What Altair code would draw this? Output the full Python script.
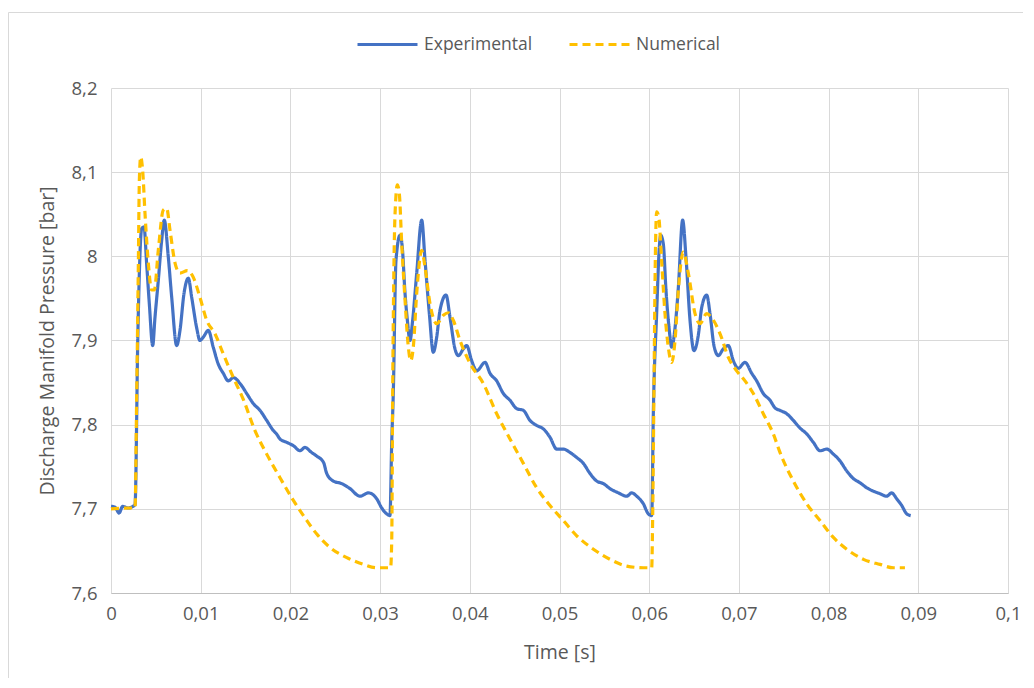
import altair as alt
import pandas as pd

# Experimental series (time [s], pressure [bar])
exp_t = [0.0, 0.00045, 0.0009, 0.0013, 0.0019, 0.00245, 0.00268, 0.0030, 0.00342, 0.00368,
         0.00398, 0.00427, 0.00465, 0.0049, 0.00527, 0.00565, 0.00594, 0.00639, 0.00677, 0.00732,
         0.00769, 0.00814, 0.00862, 0.0090, 0.00955, 0.00992, 0.01029, 0.01085, 0.0114, 0.01196,
         0.01252, 0.01308, 0.01364, 0.01438, 0.01513, 0.01587, 0.01661, 0.01736, 0.0181, 0.01845,
         0.01884, 0.01959, 0.02033, 0.02107, 0.02162, 0.02236, 0.02289, 0.0237, 0.02405, 0.02479,
         0.02572, 0.02665, 0.02776, 0.02869, 0.02962, 0.03018, 0.03074, 0.0311,
         0.03129, 0.03147, 0.03177, 0.03222, 0.03247, 0.03278, 0.03304, 0.03333, 0.03363, 0.03408,
         0.03464, 0.03501, 0.03549, 0.03593, 0.03631, 0.03668, 0.03735, 0.0378, 0.03835, 0.03872,
         0.03928, 0.03965, 0.04021, 0.04077, 0.0417, 0.04225, 0.043, 0.04374, 0.04448, 0.04523,
         0.04597, 0.04671, 0.04746, 0.0482, 0.04894, 0.04969, 0.05043, 0.05117, 0.05192, 0.05266,
         0.0534, 0.05415, 0.05489, 0.05563, 0.05656, 0.05749, 0.05805, 0.05861, 0.05935, 0.0599,
         0.06028,
         0.06046, 0.06083, 0.06113, 0.06128, 0.06157, 0.06187, 0.06224, 0.06251, 0.06288, 0.06325,
         0.06373, 0.0641, 0.06455, 0.06499, 0.06547, 0.06585, 0.06641, 0.06678, 0.06722, 0.0677,
         0.06826, 0.06882, 0.06938, 0.06993, 0.07068, 0.07143, 0.07198, 0.07272, 0.07347, 0.07402,
         0.07458, 0.07533, 0.07607, 0.07681, 0.07756, 0.0783, 0.07904, 0.07979, 0.08053, 0.08127,
         0.08202, 0.08276, 0.0835, 0.08425, 0.08499, 0.08573, 0.08648, 0.08703, 0.08759, 0.08815,
         0.08871, 0.08915]
exp_p = [7.703, 7.702, 7.695, 7.703, 7.701, 7.703, 7.705, 7.91, 8.033, 8.035,
         7.99, 7.944, 7.894, 7.927, 7.971, 8.019, 8.043, 7.999, 7.951, 7.894,
         7.912, 7.956, 7.974, 7.951, 7.915, 7.9, 7.904, 7.912, 7.892, 7.872,
         7.861, 7.852, 7.856, 7.849, 7.837, 7.825, 7.817, 7.805, 7.793, 7.789,
         7.783, 7.779, 7.775, 7.769, 7.773, 7.767, 7.763, 7.755, 7.742, 7.733,
         7.730, 7.724, 7.715, 7.719, 7.712, 7.701, 7.694, 7.692,
         7.777, 7.837, 7.995, 8.025, 8.011, 7.956, 7.924, 7.9, 7.924, 7.98,
         8.043, 7.995, 7.932, 7.886, 7.904, 7.936, 7.954, 7.927, 7.89, 7.882,
         7.89, 7.894, 7.876, 7.864, 7.874, 7.861, 7.852, 7.837, 7.829, 7.819,
         7.817, 7.805, 7.799, 7.795, 7.785, 7.771, 7.771, 7.767, 7.761, 7.754,
         7.742, 7.733, 7.730, 7.724, 7.719, 7.715, 7.719, 7.715, 7.706, 7.694,
         7.692,
         7.813, 7.932, 8.011, 8.025, 8.015, 7.96, 7.912, 7.892, 7.915, 7.963,
         8.043, 7.999, 7.924, 7.888, 7.906, 7.939, 7.954, 7.932, 7.894, 7.882,
         7.89, 7.894, 7.876, 7.867, 7.874, 7.861, 7.852, 7.837, 7.829, 7.82,
         7.817, 7.813, 7.805, 7.796, 7.789, 7.779, 7.769, 7.771, 7.765, 7.757,
         7.745, 7.736, 7.731, 7.725, 7.721, 7.718, 7.715, 7.719, 7.712, 7.704,
         7.694, 7.692]

# Numerical series (time [s], pressure [bar])
num_t = [0.0, 0.0025, 0.00268, 0.00286, 0.00305, 0.00316, 0.00331, 0.00353, 0.00379, 0.00416,
         0.00453, 0.00483, 0.00527, 0.00583, 0.00621, 0.00658, 0.00714, 0.00769, 0.00851, 0.00918,
         0.00992, 0.01067, 0.01159, 0.01252, 0.01364, 0.01475, 0.01605, 0.01736, 0.01884, 0.02033,
         0.02164, 0.02294, 0.02443, 0.02629, 0.02814, 0.02962, 0.03117,
         0.0313, 0.0314, 0.03155, 0.03174, 0.03192, 0.03214, 0.03241, 0.03278, 0.03315, 0.03341,
         0.0337, 0.03408, 0.03464, 0.03501, 0.03556, 0.03631, 0.03705, 0.0376, 0.03816, 0.03891,
         0.04002, 0.0415, 0.043, 0.04448, 0.04597, 0.04746, 0.04894, 0.05043, 0.05192, 0.05378,
         0.05563, 0.05749, 0.05935, 0.06028,
         0.06039, 0.06054, 0.06065, 0.06083, 0.06106, 0.0614, 0.06176, 0.06213, 0.06251, 0.06288,
         0.06325, 0.0638, 0.06436, 0.06511, 0.06566, 0.06641, 0.06697, 0.0679, 0.06882, 0.06975,
         0.07068, 0.07161, 0.07272, 0.07384, 0.07458, 0.07607, 0.07756, 0.07904, 0.08053, 0.08202,
         0.08388, 0.08573, 0.08721, 0.08851]
num_p = [7.700, 7.701, 7.701, 7.832, 7.992, 8.09, 8.118, 8.102, 8.051, 7.992,
         7.96, 7.96, 8.007, 8.055, 8.057, 8.031, 7.992, 7.98, 7.983, 7.975,
         7.951, 7.924, 7.908, 7.884, 7.856, 7.830, 7.793, 7.765, 7.737, 7.710,
         7.689, 7.670, 7.654, 7.642, 7.634, 7.630, 7.630,
         7.665, 7.837, 7.995, 8.067, 8.085, 8.075, 8.015, 7.948, 7.892, 7.876,
         7.892, 7.956, 8.007, 7.987, 7.944, 7.92, 7.93, 7.933, 7.924, 7.9,
         7.873, 7.849, 7.813, 7.783, 7.754, 7.725, 7.704, 7.686, 7.668, 7.652,
         7.640, 7.632, 7.630, 7.630,
         7.694, 7.852, 7.971, 8.053, 8.047, 7.992, 7.932, 7.892, 7.874, 7.9,
         7.96, 8.005, 7.98, 7.932, 7.92, 7.932, 7.927, 7.908, 7.88, 7.864,
         7.852, 7.837, 7.813, 7.789, 7.767, 7.733, 7.706, 7.686, 7.666, 7.652,
         7.640, 7.634, 7.630, 7.630]

series_names = ["Experimental", "Numerical"]
x_ticks = [0, 0.01, 0.02, 0.03, 0.04, 0.05, 0.06, 0.07, 0.08, 0.09, 0.1]
y_ticks = [7.6, 7.7, 7.8, 7.9, 8.0, 8.1, 8.2]

df = pd.concat([
    pd.DataFrame({"t": exp_t, "p": exp_p, "series": series_names[0], "order": range(len(exp_t))}),
    pd.DataFrame({"t": num_t, "p": num_p, "series": series_names[1], "order": range(len(num_t))}),
])

FONT = "Open Sans"
GREY = "#595959"

lines = alt.Chart(df).mark_line(strokeWidth=3.2, interpolate="monotone").encode(
    x=alt.X("t:Q", scale=alt.Scale(domain=[0, 0.1], nice=False),
            axis=alt.Axis(values=x_ticks, title="Time [s]",
                          labelExpr="replace(format(datum.value, '.2~f'), '.', ',')",
                          grid=True, gridColor="#d9d9d9", ticks=False, labelFlush=False,
                          domain=True, domainColor="#bfbfbf", domainWidth=1,
                          labelPadding=11, labelFontSize=18.5, labelColor=GREY, labelFont=FONT,
                          titleFontSize=19.5, titleColor=GREY, titleFont=FONT, titleFontWeight="normal",
                          titleX=448.5, titleY=59, titleBaseline="middle")),
    y=alt.Y("p:Q", scale=alt.Scale(domain=[7.6, 8.2], nice=False, zero=False),
            axis=alt.Axis(values=y_ticks, title="Discharge Manifold Pressure [bar]",
                          labelExpr="replace(format(datum.value, '.1~f'), '.', ',')",
                          grid=True, gridColor="#d9d9d9", ticks=False, domain=False, labelFlush=False,
                          labelPadding=14, labelFontSize=18.5, labelColor=GREY, labelFont=FONT,
                          titleFontSize=19.5, titleColor=GREY, titleFont=FONT, titleFontWeight="normal",
                          titleX=-64, titleY=252.5, titleBaseline="middle")),
    color=alt.Color("series:N", scale=alt.Scale(domain=series_names, range=["#4472C4", "#FFC000"]),
                    legend=alt.Legend(title=None, orient="none", direction="horizontal",
                                      legendX=245, legendY=-75, symbolType="stroke",
                                      symbolSize=3600, symbolStrokeWidth=3, columnPadding=30,
                                      labelOffset=5, labelFontSize=17.5, labelColor=GREY, labelFont=FONT,
                                      padding=0)),
    strokeDash=alt.StrokeDash("series:N", scale=alt.Scale(domain=series_names, range=[[1, 0], [8, 5]]),
                              legend=None),
    order="order:Q",
)

border = alt.Chart(pd.DataFrame({"k": [0]})).mark_rect(fill="transparent", stroke="#d9d9d9", strokeWidth=1).encode(
    x=alt.value(-102.5), x2=alt.value(1000), y=alt.value(-75.5), y2=alt.value(700)
)

chart = alt.layer(border, lines).properties(
    width=897, height=505,
    autosize=alt.AutoSizeParams(type="none"),
    padding={"left": 103, "top": 80, "right": 15, "bottom": 85},
).configure_view(stroke=None)

chart.save("out.html", embed_options={"renderer": "svg", "actions": False})
